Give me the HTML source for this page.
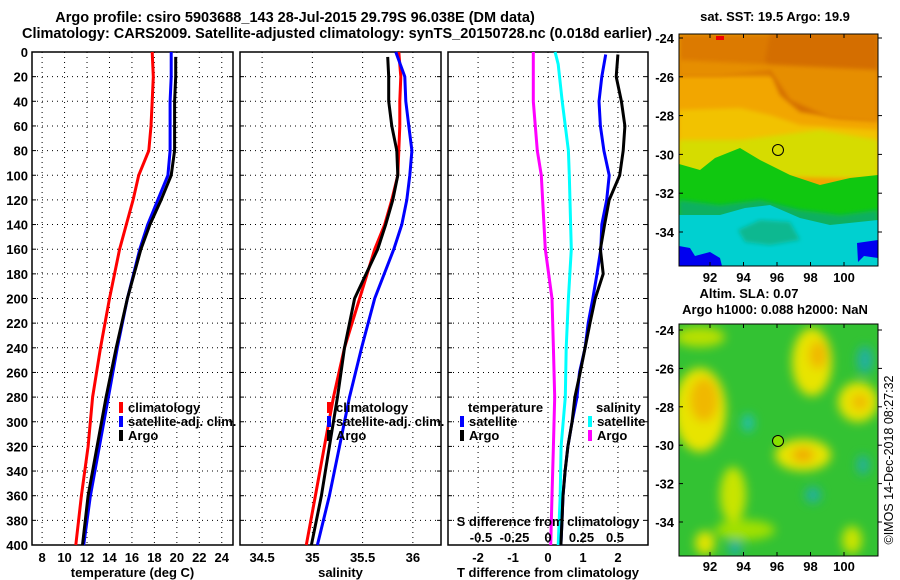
<!DOCTYPE html>
<html><head><meta charset="utf-8"><style>
body{margin:0;background:#fff}
svg{display:block;font-family:"Liberation Sans",sans-serif;font-weight:bold}
text{font-size:13px;fill:#000}
</style></head><body>
<svg id="c" width="900" height="580" viewBox="0 0 900 580">
<defs>
<clipPath id="cm1"><rect x="679" y="34" width="199" height="232"/></clipPath>
<clipPath id="cm2"><rect x="679" y="324" width="199" height="232"/></clipPath>
<filter id="bl" x="-20%" y="-20%" width="140%" height="140%"><feGaussianBlur stdDeviation="5"/></filter>
<filter id="bl2"><feGaussianBlur stdDeviation="2"/></filter>
</defs>
<text x="295" y="22" text-anchor="middle" style="font-size:14.5px">Argo profile: csiro 5903688_143 28-Jul-2015 29.79S 96.038E (DM data)</text>
<text x="22" y="38" textLength="630" lengthAdjust="spacingAndGlyphs" style="font-size:14.5px">Climatology: CARS2009. Satellite-adjusted climatology: synTS_20150728.nc (0.018d earlier)</text>

<!-- SST map -->
<g clip-path="url(#cm1)">
<rect x="679" y="34" width="199" height="232" fill="#f2a600"/>
<rect x="679" y="34" width="199" height="42" fill="#dc7a00" filter="url(#bl2)"/>
<path d="M770 34 L878 34 L878 120 L840 118 L800 112 L780 95 L765 60Z" fill="#d46e00" filter="url(#bl2)"/>
<path d="M679 76 L720 76 L770 70 L790 100 L830 118 L878 122 L878 70 L679 60Z" fill="#e68e00" filter="url(#bl2)"/>
<path d="M679 110 L740 108 L770 115 L800 125 L878 130 L878 178 L679 170Z" fill="#f2c200" filter="url(#bl2)"/>
<path d="M679 140 L740 140 L780 135 L820 130 L878 140 L878 178 L679 175Z" fill="#d6dc00" filter="url(#bl2)"/>
<path d="M679 164 L700 170 L715 158 L740 148 L760 160 L790 175 L820 185 L850 178 L878 175 L878 266 L679 266Z" fill="#10c810"/>
<path d="M679 200 L720 205 L760 200 L800 210 L840 215 L878 210 L878 266 L679 266Z" fill="#10b060" filter="url(#bl2)"/>
<path d="M679 215 L720 215 L745 208 L770 205 L800 218 L830 225 L878 220 L878 266 L679 266Z" fill="#00d0d0"/>
<path d="M738 230 L760 220 L790 222 L800 240 L770 245 L745 242Z" fill="#10b890" filter="url(#bl2)"/>
<path d="M679 246 L690 248 L695 256 L710 252 L720 258 L722 266 L679 266Z" fill="#0000f0"/>
<path d="M857 243 L878 240 L878 258 L864 256 L858 262Z" fill="#0000f0"/>
<rect x="716" y="36" width="8" height="4" fill="#f00000"/>
</g>
<rect x="679" y="34" width="199" height="232" fill="none" stroke="#000"/>
<circle cx="778" cy="150" r="5.5" fill="none" stroke="#000"/>
<text x="775" y="21" text-anchor="middle">sat. SST: 19.5 Argo: 19.9</text>

<!-- SLA map -->
<g clip-path="url(#cm2)">
<rect x="679" y="324" width="199" height="232" fill="#33c233"/>
<g filter="url(#bl)">
<ellipse cx="700" cy="410" rx="26" ry="42" fill="#e8e400"/>
<ellipse cx="704" cy="400" rx="14" ry="22" fill="#f0b800"/>
<ellipse cx="812" cy="362" rx="20" ry="34" fill="#e8e400"/>
<ellipse cx="818" cy="355" rx="9" ry="14" fill="#f0b800"/>
<ellipse cx="858" cy="402" rx="20" ry="20" fill="#e8e400"/>
<ellipse cx="860" cy="402" rx="8" ry="8" fill="#f0b800"/>
<ellipse cx="803" cy="455" rx="28" ry="16" fill="#e8e400"/>
<ellipse cx="803" cy="455" rx="11" ry="7" fill="#f0a800"/>
<ellipse cx="733" cy="495" rx="13" ry="28" fill="#c8e400"/>
<ellipse cx="745" cy="530" rx="30" ry="10" fill="#a0e000"/>
<ellipse cx="705" cy="543" rx="10" ry="12" fill="#e0e400"/>
<ellipse cx="852" cy="540" rx="10" ry="14" fill="#c8e400"/>
<ellipse cx="700" cy="337" rx="25" ry="10" fill="#b8e000"/>
<ellipse cx="748" cy="423" rx="6" ry="9" fill="#20c0b0"/>
<ellipse cx="735" cy="548" rx="7" ry="8" fill="#20b0a0"/>
<ellipse cx="813" cy="495" rx="8" ry="8" fill="#20b0a0"/>
<ellipse cx="863" cy="465" rx="6" ry="10" fill="#20b0a0"/>
<ellipse cx="865" cy="360" rx="8" ry="14" fill="#20b0a0"/>
</g>
</g>
<rect x="679" y="324" width="199" height="232" fill="none" stroke="#000"/>
<circle cx="778" cy="441" r="5.5" fill="#88e000" stroke="#000"/>
<text x="749" y="298" text-anchor="middle">Altim. SLA: 0.07</text>
<text x="775" y="314" text-anchor="middle">Argo h1000: 0.088 h2000: NaN</text>
<text transform="translate(893,460) rotate(-90)" text-anchor="middle" style="font-weight:normal;font-size:12.5px">©IMOS 14-Dec-2018 08:27:32</text>

<g id="plots"></g>
</svg>
<script>
// ---- data ----
const depths = [0,20,40,60,80,100,120,140,160,200,240,280,320,360,400];
const tempClim = [17.8,17.9,17.8,17.7,17.5,16.6,16.1,15.5,14.9,14.0,13.2,12.5,12.1,11.5,11.0];
const tempSat  = [19.5,19.5,19.4,19.4,19.4,19.2,18.3,17.4,16.7,15.6,14.7,13.9,13.1,12.3,11.7];
const argoDepths = [4,20,40,60,80,100,120,140,160,200,240,280,320,360,400];
const tempArgo = [19.9,19.9,19.8,19.8,19.8,19.5,18.6,17.6,16.8,15.6,14.6,13.7,12.9,12.1,11.6];
const salClim = [35.86,35.88,35.87,35.87,35.86,35.85,35.79,35.72,35.62,35.47,35.32,35.21,35.12,35.03,34.94];
const salSat  = [35.83,35.92,35.93,35.96,35.99,35.97,35.94,35.89,35.81,35.62,35.49,35.37,35.27,35.17,35.05];
const salArgo = [35.75,35.76,35.76,35.79,35.84,35.85,35.80,35.73,35.65,35.42,35.32,35.25,35.17,35.09,34.99];
const tDiffDepths = [2,20,40,60,80,100,120,140,160,180,200,220,240,260,280,300,320,340,360,380,400];
const tDiffArgo = [2.0,1.95,2.1,2.2,2.15,2.05,1.75,1.62,1.5,1.58,1.35,1.2,1.06,0.92,0.77,0.69,0.57,0.49,0.43,0.40,0.37];
const tDiffSat  = [1.65,1.54,1.46,1.5,1.6,1.75,1.68,1.54,1.51,1.4,1.28,1.15,1.06,0.9,0.83,0.69,0.57,0.49,0.43,0.40,0.37];
const sDiffDepths = [0,10,40,80,100,160,200,240,280,320,360,400];
const sDiffSat  = [0.053,0.076,0.106,0.152,0.159,0.174,0.152,0.136,0.129,0.098,0.091,0.076];
const sDiffArgo = [-0.11,-0.11,-0.11,-0.08,-0.05,-0.02,0.03,0.04,0.05,0.04,0.03,0.02];
const depthTicks = [0,20,40,60,80,100,120,140,160,180,200,220,240,260,280,300,320,340,360,380,400];
const tempTicks = [8,10,12,14,16,18,20,22,24];
const salTicks = [34.5,35,35.5,36];
const tDiffTicks = [-2,-1,0,1,2];
const sDiffTicks = [-0.5,-0.25,0,0.25,0.5];
const sDiffTickLabels = ['-0.5','-0.25','0','0.25','0.5'];
const lonTicks = [92,94,96,98,100];
const latTicks = [-24,-26,-28,-30,-32,-34];

// ---- axes ----
const NS='http://www.w3.org/2000/svg';
const root=document.getElementById('plots');
const Y0=52,Y1=545;
const yD=d=>Y0+d*(Y1-Y0)/400;
const lin=(a,b,p,q)=>v=>p+(v-a)*(q-p)/(b-a);
const panels=[
 {x0:32,x1:233,sx:lin(7.1,25,32,233),ticks:tempTicks,lab:'temperature (deg C)',name:'temperature-panel',labels:tempTicks.map(String)},
 {x0:240,x1:441,sx:lin(34.28,36.28,240,441),ticks:salTicks,lab:'salinity',name:'salinity-panel',labels:['34.5','35','35.5','36']},
 {x0:448,x1:648,sx:lin(-2.86,2.86,448,648),ticks:tDiffTicks,lab:'T difference from climatology',name:'difference-panel',labels:tDiffTicks.map(String)}
];
const sxS=lin(-0.5,0.5,481,615);
function el(tag,attrs,parent,txt){const e=document.createElementNS(NS,tag);for(const k in attrs)e.setAttribute(k,attrs[k]);if(txt!==undefined)e.textContent=txt;(parent||root).appendChild(e);return e;}
panels.forEach((p,i)=>{
 const g=el('g',{});
 
 
 depthTicks.forEach(d=>{ if(d>0&&d<400) el('line',{x1:p.x0,x2:p.x1,y1:yD(d),y2:yD(d),stroke:'#000','stroke-dasharray':'1 4','stroke-width':1},g);
   el('line',{x1:p.x1-4,x2:p.x1,y1:yD(d),y2:yD(d),stroke:'#000'},g);
   el('line',{x1:p.x0,x2:p.x0+4,y1:yD(d),y2:yD(d),stroke:'#000'},g);
   if(i===0){const t=el('text',{x:28,y:yD(d)+5,'text-anchor':'end'},g,String(d));
     
     }
 });
 p.ticks.forEach((v,k)=>{const x=p.sx(v);
   el('line',{x1:x,x2:x,y1:Y0,y2:Y1,stroke:'#000','stroke-dasharray':'1 4'},g);
   const t=el('text',{x:x,y:562,'text-anchor':'middle'},g,p.labels[k]);
   
   
 });
 const lt=el('text',{x:(p.x0+p.x1)/2,y:577,'text-anchor':'middle'},g,p.lab);
 
 
 el('rect',{x:p.x0,y:Y0,width:p.x1-p.x0,height:Y1-Y0,fill:'none',stroke:'#000','stroke-width':1.5},g);
});
function line(xs,ds,sx,color,name){
 const pts=xs.map((v,k)=>sx(v).toFixed(1)+','+yD(ds[k]).toFixed(1)).join(' ');
 const e=el('polyline',{points:pts,fill:'none',stroke:color,'stroke-width':3});
 
 
}
line(tempClim,depths,panels[0].sx,'#f00','temp-climatology-line');
line(tempSat,depths,panels[0].sx,'#00f','temp-satellite-line');
line(tempArgo,argoDepths,panels[0].sx,'#000','temp-argo-line');
line(salClim,depths,panels[1].sx,'#f00','sal-climatology-line');
line(salSat,depths,panels[1].sx,'#00f','sal-satellite-line');
line(salArgo,argoDepths,panels[1].sx,'#000','sal-argo-line');
line(sDiffArgo,sDiffDepths,sxS,'#f0f','sdiff-argo-line');
line(sDiffSat,sDiffDepths,sxS,'#0ff','sdiff-satellite-line');
line(tDiffSat,tDiffDepths,panels[2].sx,'#00f','tdiff-satellite-line');
line(tDiffArgo,tDiffDepths,panels[2].sx,'#000','tdiff-argo-line');

// S diff axis labels
const st=el('text',{x:548,y:526,'text-anchor':'middle'},root,'S difference from climatology');


sDiffTicks.forEach((v,k)=>{const t=el('text',{x:sxS(v),y:542,'text-anchor':'middle'},root,sDiffTickLabels[k]);
 
 });

// legends
function leg(x,y,color,label){
 const g=el('g',{});
 
 
 el('rect',{x:x,y:y-10,width:4,height:11,fill:color},g);
 el('text',{x:x+9,y:y},g,label);
}
leg(119,412,'#f00','climatology');leg(119,426,'#00f','satellite-adj. clim.');leg(119,440,'#000','Argo');
leg(327,412,'#f00','climatology');leg(327,426,'#00f','satellite-adj. clim.');leg(327,440,'#000','Argo');
el('text',{x:468,y:412},root,'temperature');
leg(460,426,'#00f','satellite');leg(460,440,'#000','Argo');
el('text',{x:596,y:412},root,'salinity');
leg(588,426,'#0ff','satellite');leg(588,440,'#f0f','Argo');

// map axes
const lonX=lin(92,100,710,844);
[[38,282,34,266],[330,571,324,556]].forEach(([latTop,ly,t,b],m)=>{
 const latY=lin(-24,-34,latTop,latTop+(m?192:194));
 lonTicks.forEach(v=>{const x=lonX(v);
  el('line',{x1:x,x2:x,y1:b,y2:b-4,stroke:'#000'});el('line',{x1:x,x2:x,y1:t,y2:t+4,stroke:'#000'});
  const tx=el('text',{x:x,y:ly,'text-anchor':'middle'},root,String(v));
  
  });
 latTicks.forEach(v=>{const y=latY(v);
  el('line',{x1:679,x2:683,y1:y,y2:y,stroke:'#000'});el('line',{x1:878,x2:882,y1:y,y2:y,stroke:'#000'});
  const tx=el('text',{x:674,y:y+5,'text-anchor':'end'},root,String(v));
  
  });
});
</script>
</body></html>
